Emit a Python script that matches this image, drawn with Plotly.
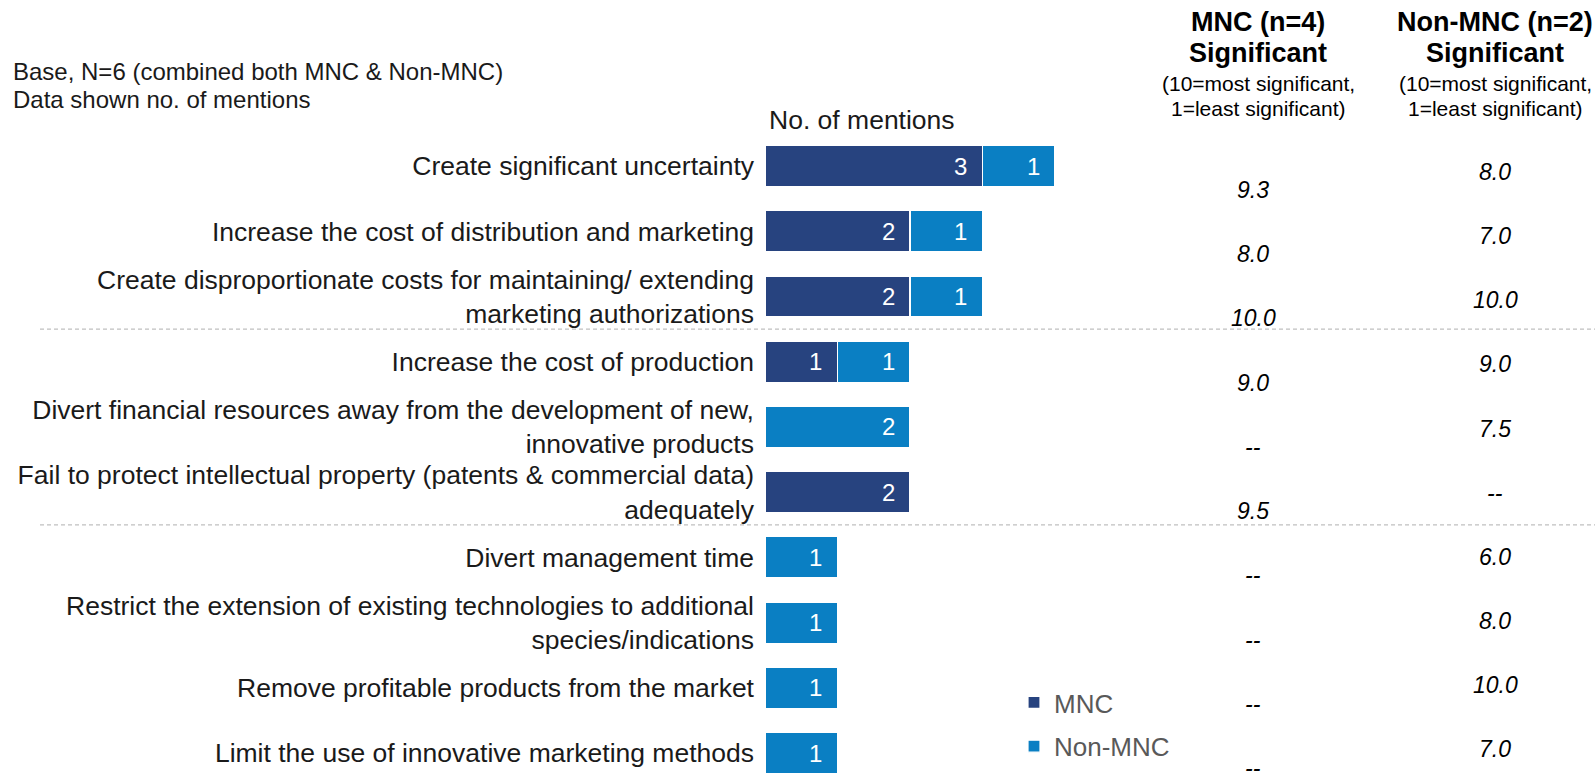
import plotly.graph_objects as go

categories = [
    "Create significant uncertainty",
    "Increase the cost of distribution and marketing",
    "Create disproportionate costs for maintaining/ extending<br>marketing authorizations",
    "Increase the cost of production",
    "Divert financial resources away from the development of new,<br>innovative products",
    "Fail to protect intellectual property (patents & commercial data)<br>adequately",
    "Divert management time",
    "Restrict the extension of existing technologies to additional<br>species/indications",
    "Remove profitable products from the market",
    "Limit the use of innovative marketing methods",
]
mnc_mentions = [3, 2, 2, 1, None, 2, None, None, None, None]
non_mnc_mentions = [1, 1, 1, 1, 2, None, 1, 1, 1, 1]
mnc_scores = ["9.3", "8.0", "10.0", "9.0", "--", "9.5", "--", "--", "--", "--"]
non_mnc_scores = ["8.0", "7.0", "10.0", "9.0", "7.5", "--", "6.0", "8.0", "10.0", "7.0"]

MNC_COLOR = "#27437F"
NON_COLOR = "#0A7FC3"
FONT = "Liberation Sans, Arial, sans-serif"
W, H = 1595, 774

fig = go.Figure()
fig.add_trace(go.Bar(
    y=categories, x=mnc_mentions, orientation="h", name="MNC",
    marker=dict(color=MNC_COLOR, line=dict(color="white", width=1.2)),
    legendgroup="a",
))
fig.add_trace(go.Bar(
    y=categories, x=non_mnc_mentions, orientation="h", name="Non-MNC",
    marker=dict(color=NON_COLOR, line=dict(color="white", width=1.2)),
    legendgroup="b",
))

annotations = []
for i, cat in enumerate(categories):
    base = 0
    for v in (mnc_mentions[i], non_mnc_mentions[i]):
        if v:
            annotations.append(dict(
                x=base + v - 0.3, y=cat, xref="x", yref="y", text=str(v),
                showarrow=False, xanchor="center",
                font=dict(color="white", size=24, family=FONT),
            ))
            base += v
    annotations.append(dict(
        x=1253 / W, y=cat, xref="paper", yref="y", text=mnc_scores[i], yshift=-(24 - i),
        showarrow=False, xanchor="center",
        font=dict(color="black", size=23, family=FONT, style="italic"),
    ))
    annotations.append(dict(
        x=1495 / W, y=cat, xref="paper", yref="y", text=non_mnc_scores[i], yshift=-(6 - 1.1 * i),
        showarrow=False, xanchor="center",
        font=dict(color="black", size=23, family=FONT, style="italic"),
    ))

def txt(x, y, text, size, bold=False, anchor="center", color="black"):
    annotations.append(dict(
        x=x / W, y=1 - y / H, xref="paper", yref="paper", text=f"<b>{text}</b>" if bold else text,
        showarrow=False, xanchor=anchor, yanchor="middle",
        font=dict(color=color, size=size, family=FONT),
    ))

txt(1258, 22, "MNC (n=4)", 27, bold=True)
txt(1258, 53, "Significant", 27, bold=True)
txt(1258, 83, "(10=most significant,", 21)
txt(1258, 109, "1=least significant)", 21)
txt(1495, 22, "Non-MNC (n=2)", 27, bold=True)
txt(1495, 53, "Significant", 27, bold=True)
txt(1495, 83, "(10=most significant,", 21)
txt(1495, 109, "1=least significant)", 21)
txt(11, 71, "Base, N=6 (combined both MNC & Non-MNC)", 24, anchor="left", color="#1a1a1a")
txt(11, 99, "Data shown no. of mentions", 24, anchor="left", color="#1a1a1a")
txt(767, 120, "No. of mentions", 26.5, anchor="left", color="#1a1a1a")

shapes = []
for yv in (2.5, 5.5):
    shapes.append(dict(
        type="line", xref="paper", yref="y", x0=40 / W, x1=1, y0=yv, y1=yv,
        line=dict(color="#C0C0C0", width=1.2, dash="4px,3px"),
    ))

x0 = 765 / W
fig.update_layout(
    width=W, height=H,
    margin=dict(l=0, r=0, t=0, b=0),
    paper_bgcolor="white", plot_bgcolor="white",
    barmode="stack", bargap=0.37,
    font=dict(family=FONT, color="#1a1a1a"),
    xaxis=dict(domain=[x0, x0 + 725 / W], range=[0, 10], visible=False),
    yaxis=dict(
        type="category", categoryorder="array", categoryarray=categories,
        range=[9.32, -2.545], showgrid=False, zeroline=False, showline=False,
        ticks="", ticklabelstandoff=10,
        tickfont=dict(size=26.5, family=FONT, color="#1a1a1a"),
    ),
    showlegend=True,
    legend=dict(
        x=1014 / W, y=1 - 679 / H, xanchor="left", yanchor="top",
        font=dict(size=26, color="#595959", family=FONT),
        tracegroupgap=7, bgcolor="rgba(0,0,0,0)", itemwidth=30,
    ),
    annotations=annotations,
    shapes=shapes,
)

fig.write_html(
    "out.html",
    config={"displayModeBar": False},
    post_script="document.body.style.margin='0';document.body.style.overflow='hidden';",
)
